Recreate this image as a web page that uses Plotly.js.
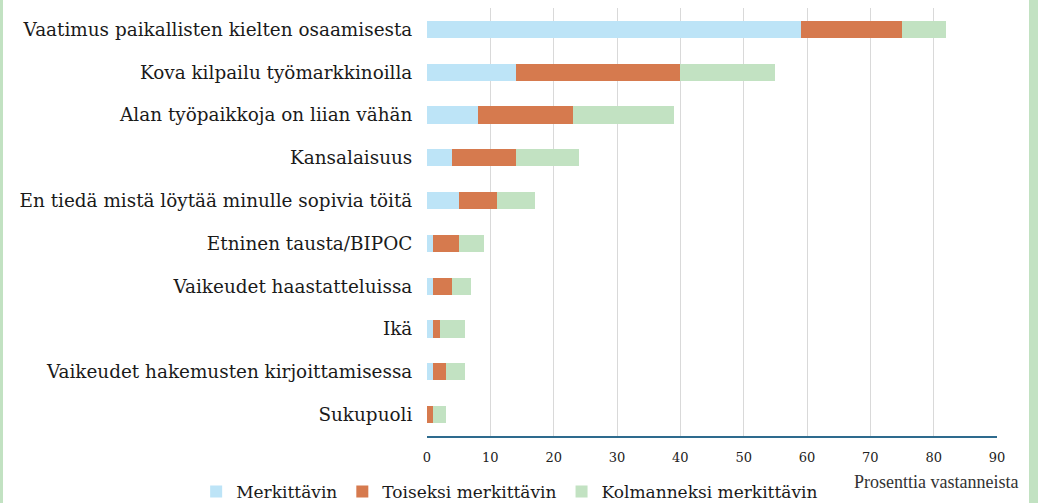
<!DOCTYPE html>
<html>
<head>
<meta charset="utf-8">
<script src="https://cdn.plot.ly/plotly-3.0.1.min.js"></script>
<style>
  html, body { margin: 0; padding: 0; background: #ffffff; }
  #wrap { position: relative; width: 1038px; height: 503px; overflow: hidden; }
  #chart { width: 1038px; height: 503px; }
  .stripe { position: absolute; top: 0; height: 503px; background: #C2E2C2; }
</style>
</head>
<body>
<div id="wrap">
  <div id="chart"></div>
  <div class="stripe" style="left:0; width:3px;"></div>
  <div class="stripe" style="left:1029px; width:9px;"></div>
</div>
<script>
const categories = [
  "Vaatimus paikallisten kielten osaamisesta",
  "Kova kilpailu työmarkkinoilla",
  "Alan työpaikkoja on liian vähän",
  "Kansalaisuus",
  "En tiedä mistä löytää minulle sopivia töitä",
  "Etninen tausta/BIPOC",
  "Vaikeudet haastatteluissa",
  "Ikä",
  "Vaikeudet hakemusten kirjoittamisessa",
  "Sukupuoli"
];
const seriesNames = ["Merkittävin", "Toiseksi merkittävin", "Kolmanneksi merkittävin"];
const merkittavin = [59, 14, 8, 4, 5, 1, 1, 1, 1, 0];
const toiseksi = [16, 26, 15, 10, 6, 4, 3, 1, 2, 1];
const kolmanneksi = [7, 15, 16, 10, 6, 4, 3, 4, 3, 2];
const tickValues = [0, 10, 20, 30, 40, 50, 60, 70, 80, 90];
const axisTitle = "Prosenttia vastanneista";

const colors = ["#BDE4F7", "#D67A4E", "#C2E2C2"];
const serif = "DejaVu Serif, Liberation Serif, serif";

const data = [merkittavin, toiseksi, kolmanneksi].map((vals, i) => ({
  type: "bar",
  orientation: "h",
  name: seriesNames[i],
  x: vals,
  y: categories,
  marker: { color: colors[i], line: { width: 0 } },
  hoverinfo: "none"
}));

const layout = {
  width: 1038,
  height: 503,
  margin: { l: 427, r: 41, t: 8, b: 67, autoexpand: false },
  paper_bgcolor: "#ffffff",
  plot_bgcolor: "#ffffff",
  barmode: "stack",
  bargap: 0.6,
  showlegend: true,
  legend: {
    orientation: "h",
    xref: "paper",
    yref: "paper",
    x: -0.405,
    xanchor: "left",
    y: -0.131,
    yanchor: "middle",
    font: { family: serif, size: 17, color: "#1a1a1a" },
    traceorder: "normal",
    itemwidth: 30,
    bgcolor: "rgba(0,0,0,0)"
  },
  xaxis: {
    range: [0, 90],
    tickvals: tickValues,
    ticktext: tickValues.map(String),
    showgrid: true,
    gridcolor: "#D9D9D9",
    gridwidth: 1,
    zeroline: false,
    showline: true,
    linecolor: "#2E6B8E",
    linewidth: 1.5,
    ticks: "outside",
    ticklen: 9,
    tickcolor: "rgba(0,0,0,0)",
    tickfont: { family: serif, size: 13, color: "#222222" },
    fixedrange: true
  },
  yaxis: {
    autorange: "reversed",
    showgrid: false,
    zeroline: false,
    showline: false,
    ticks: "outside",
    ticklen: 10,
    tickcolor: "rgba(0,0,0,0)",
    tickfont: { family: serif, size: 18.4, color: "#1a1a1a" },
    fixedrange: true
  },
  annotations: [{
    text: axisTitle,
    xref: "paper",
    yref: "paper",
    x: 1,
    xshift: 23,
    xanchor: "right",
    y: -0.107,
    yanchor: "middle",
    showarrow: false,
    font: { family: "Liberation Serif, serif", size: 18, color: "#333333" }
  }]
};

Plotly.newPlot("chart", data, layout, { displayModeBar: false, staticPlot: true });
</script>
</body>
</html>
